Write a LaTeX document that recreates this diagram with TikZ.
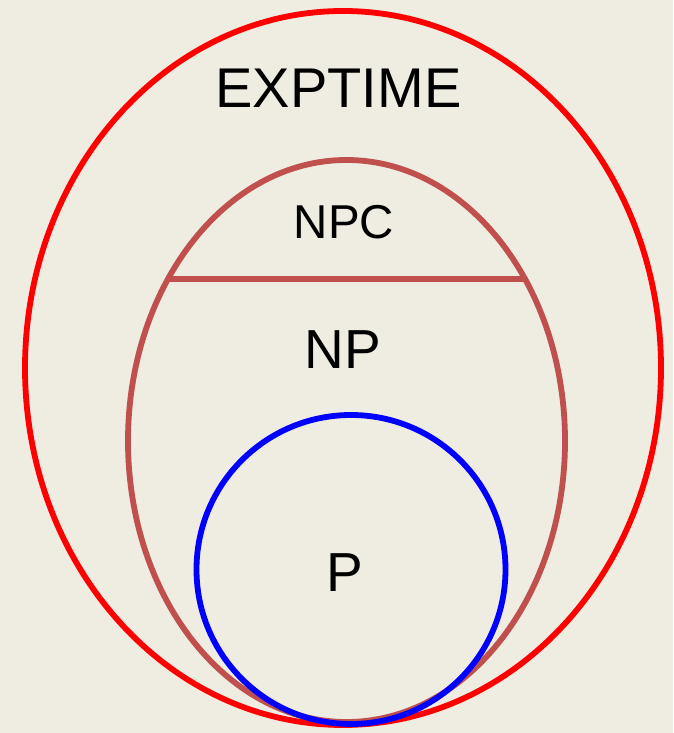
\documentclass[tikz,border=0pt]{standalone}
\usepackage{fontspec}
\setmainfont{Liberation Sans}
\usetikzlibrary{calc}
\definecolor{bgbeige}{HTML}{EFECE1}
\definecolor{npbrown}{HTML}{C0504D}
\tikzset{
    classline/.style={line width=5.8pt},
    classlabel/.style={inner sep=0pt, text=black}
}
\begin{document}
\begin{tikzpicture}[x=1pt,y=1pt]
                \fill[bgbeige] (0,0) rectangle (673,733);
                \useasboundingbox (0,0) rectangle (673,733);

                \coordinate (cexp) at (343,365);
                \coordinate (cnp) at (346.5,292);
                \coordinate (cp) at (351,163.5);

                \draw[classline, red] (cexp) ellipse [x radius=318, y radius=357];
                \draw[classline, npbrown] (cnp) ellipse [x radius=218.5, y radius=281];
                \draw[classline, blue] (cp) circle [radius=154.5];

                \coordinate (npcl) at ($(cnp)+(144.8:218.5 and 281)$);
                \coordinate (npcr) at ($(cnp)+(35.2:218.5 and 281)$);
                \draw[classline, npbrown] (npcl) -- (npcr);

                \node[classlabel, font=\fontsize{56}{60}\selectfont] (exptime) at (338.5,645) {EXPTIME};
                \node[classlabel, font=\fontsize{47.5}{52}\selectfont] (npc) at (344,511) {NPC};
                \node[classlabel, font=\fontsize{55}{60}\selectfont] (np) at (342.5,383) {NP};
                \node[classlabel, font=\fontsize{55}{60}\selectfont] (p) at (345,160) {P};
            \end{tikzpicture}
\end{document}
